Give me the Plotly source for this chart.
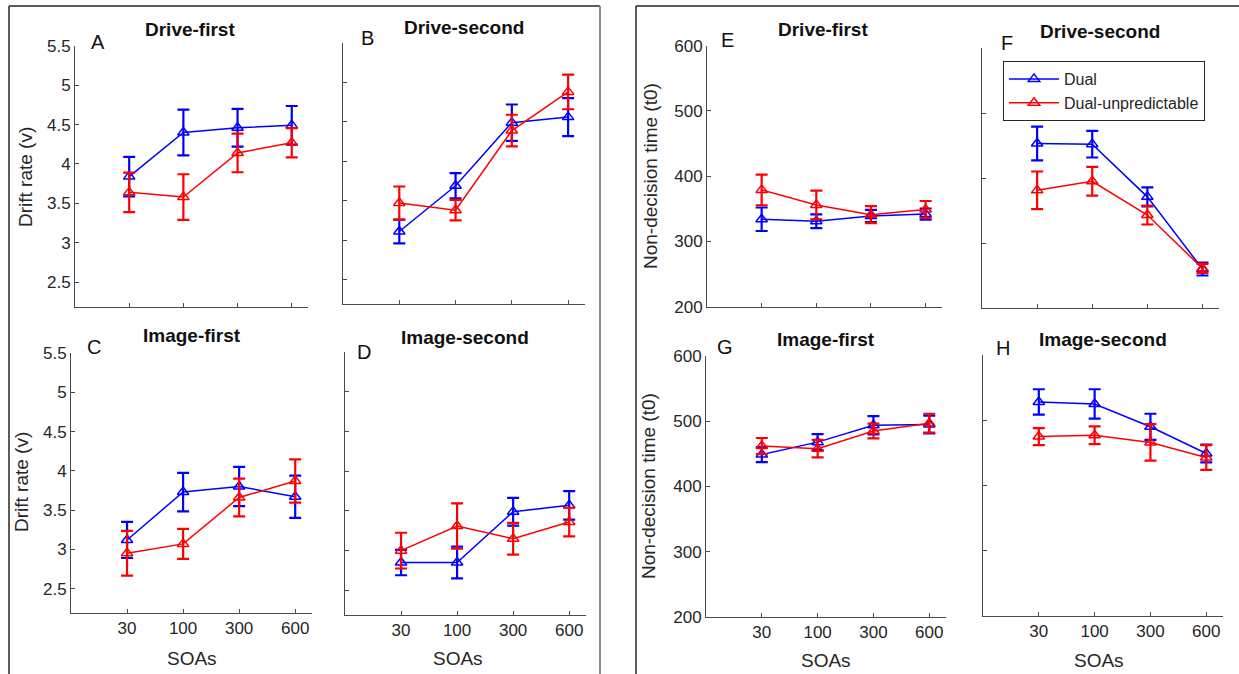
import plotly.graph_objects as go

W, H = 1239, 674

# ---------------- data ----------------
soa_labels = ["30", "100", "300", "600"]
soa_pos = [1, 2, 3, 4]

# Drift rate (v)
A_dual_mean = [3.84, 4.40, 4.46, 4.49]
A_dual_err = [0.25, 0.29, 0.24, 0.245]
A_unp_mean = [3.64, 3.58, 4.14, 4.27]
A_unp_err = [0.25, 0.29, 0.245, 0.185]

B_dual_mean = [3.11, 3.69, 4.49, 4.56]
B_dual_err = [0.15, 0.16, 0.23, 0.24]
B_unp_mean = [3.47, 3.38, 4.39, 4.88]
B_unp_err = [0.21, 0.13, 0.20, 0.22]

C_dual_mean = [3.12, 3.73, 3.80, 3.67]
C_dual_err = [0.23, 0.245, 0.25, 0.27]
C_unp_mean = [2.95, 3.07, 3.66, 3.87]
C_unp_err = [0.285, 0.19, 0.24, 0.275]

D_dual_mean = [2.85, 2.85, 3.49, 3.57]
D_dual_err = [0.16, 0.20, 0.175, 0.18]
D_unp_mean = [3.00, 3.31, 3.15, 3.36]
D_unp_err = [0.225, 0.285, 0.20, 0.18]

# Non-decision time (t0)
E_dual_mean = [334, 331, 339, 342]
E_dual_err = [18, 10.5, 9.5, 8.5]
E_unp_mean = [379, 356, 341, 349]
E_unp_err = [23.5, 22, 13, 13]

F_dual_mean = [453, 452, 371, 260]
F_dual_err = [26, 20.5, 14.5, 10]
F_unp_mean = [381, 395, 343, 261]
F_unp_err = [29, 22, 14.5, 7]

G_dual_mean = [449, 468, 494, 495]
G_dual_err = [11.5, 12.3, 14, 13.5]
G_unp_mean = [462, 458, 485, 497]
G_unp_err = [12.3, 13.5, 11.3, 14.5]

H_dual_mean = [528, 525, 490, 449]
H_dual_err = [19.5, 22.5, 20, 13.5]
H_unp_mean = [475, 477, 466, 443]
H_unp_err = [13, 13.7, 28, 19]

drift_ticks = [2.5, 3, 3.5, 4, 4.5, 5, 5.5]
drift_tick_labels = ["2.5", "3", "3.5", "4", "4.5", "5", "5.5"]
t0_ticks = [200, 300, 400, 500, 600]
t0_tick_labels = ["200", "300", "400", "500", "600"]

series_names = ["Dual", "Dual-unpredictable"]
series_colors = ["#0000FF", "#FF0000"]

# ---------------- layout geometry (pixels) ----------------
panels = [
    ("A", "Drive-first", 75, 308, 45.7, 306.7, [2.19, 5.5], "drift", False, True,
     A_dual_mean, A_dual_err, A_unp_mean, A_unp_err),
    ("B", "Drive-second", 343, 585, 43, 304, [2.19, 5.5], "drift", False, False,
     B_dual_mean, B_dual_err, B_unp_mean, B_unp_err),
    ("C", "Image-first", 71, 312, 353, 613, [2.19, 5.5], "drift", True, True,
     C_dual_mean, C_dual_err, C_unp_mean, C_unp_err),
    ("D", "Image-second", 345, 586, 352, 615, [2.19, 5.5], "drift", True, False,
     D_dual_mean, D_dual_err, D_unp_mean, D_unp_err),
    ("E", "Drive-first", 707, 942, 45.7, 306.7, [200, 600], "t0", False, True,
     E_dual_mean, E_dual_err, E_unp_mean, E_unp_err),
    ("F", "Drive-second", 982, 1219, 48, 308, [200, 600], "t0", False, False,
     F_dual_mean, F_dual_err, F_unp_mean, F_unp_err),
    ("G", "Image-first", 706, 946, 356, 617, [200, 600], "t0", True, True,
     G_dual_mean, G_dual_err, G_unp_mean, G_unp_err),
    ("H", "Image-second", 983, 1223, 355, 616, [200, 600], "t0", True, False,
     H_dual_mean, H_dual_err, H_unp_mean, H_unp_err),
]

title_pos = {
    "A": (190, 30), "B": (464, 28), "C": (192, 335), "D": (465, 337),
    "E": (823, 30), "F": (1100, 32), "G": (826, 339), "H": (1103, 339),
}
letter_pos = {
    "A": (98, 42), "B": (367, 38), "C": (94, 347), "D": (364, 352),
    "E": (727, 40), "F": (1007, 43), "G": (725, 347), "H": (1003, 348),
}


def px(x):
    return x / W


def py(y):
    return 1 - y / H


FONT = "Liberation Sans, Arial, sans-serif"
TXT = "#262626"
AX = "#4a4a4a"

fig = go.Figure()
layout = dict(
    template="none",
    width=W, height=H, autosize=False,
    margin=dict(l=0, r=0, t=0, b=0, pad=0, autoexpand=False),
    paper_bgcolor="white", plot_bgcolor="white",
    font=dict(family=FONT, color=TXT, size=17),
    showlegend=True,
    legend=dict(
        x=px(1003), y=py(61), xanchor="left", yanchor="top",
        bgcolor="white", bordercolor="#262626", borderwidth=1,
        font=dict(size=16, color=TXT, family=FONT),
        itemwidth=50, tracegroupgap=0,
    ),
)
annotations = []

for i, p in enumerate(panels):
    (key, title, x0, x1, yt, yb, yr, kind, show_x, show_y,
     dm, de, um, ue) = p
    n = i + 1
    xa = "x" if n == 1 else f"x{n}"
    ya = "y" if n == 1 else f"y{n}"
    ticks = drift_ticks if kind == "drift" else t0_ticks
    tlabels = drift_tick_labels if kind == "drift" else t0_tick_labels
    layout[f"xaxis{'' if n == 1 else n}"] = dict(
        domain=[px(x0), px(x1)], anchor=ya, range=[0, 4.3],
        tickmode="array", tickvals=soa_pos,
        ticktext=soa_labels if show_x else ["", "", "", ""],
        ticks="inside", ticklen=4, tickcolor=AX, tickwidth=1,
        showline=True, linecolor=AX, linewidth=1, automargin=False,
        showgrid=False, zeroline=False, fixedrange=True,
        tickfont=dict(size=17, color=TXT),
    )
    layout[f"yaxis{'' if n == 1 else n}"] = dict(
        domain=[py(yb), py(yt)], anchor=xa, range=yr,
        tickmode="array", tickvals=ticks,
        ticktext=tlabels if show_y else [""] * len(ticks),
        ticks="inside", ticklen=4, tickcolor=AX, tickwidth=1,
        showline=True, linecolor=AX, linewidth=1, automargin=False,
        showgrid=False, zeroline=False, fixedrange=True,
        tickfont=dict(size=17, color=TXT),
    )
    for s, (mean, err) in enumerate([(dm, de), (um, ue)]):
        fig.add_trace(go.Scatter(
            x=soa_pos, y=mean, xaxis=xa, yaxis=ya,
            mode="lines+markers",
            name=series_names[s],
            showlegend=(key == "F"),
            line=dict(color=series_colors[s], width=1.5),
            marker=dict(symbol="triangle-up-open", size=10,
                        color=series_colors[s],
                        line=dict(color=series_colors[s], width=1.5)),
            error_y=dict(type="data", array=err, visible=True,
                         color=series_colors[s], thickness=2.2, width=6),
        ))
    tx, ty = title_pos[key]
    annotations.append(dict(
        x=px(tx), y=py(ty), xref="paper", yref="paper", text=f"<b>{title}</b>",
        showarrow=False, xanchor="center", yanchor="middle",
        font=dict(size=19, color="#111111", family=FONT)))
    lx, ly = letter_pos[key]
    annotations.append(dict(
        x=px(lx), y=py(ly), xref="paper", yref="paper", text=key,
        showarrow=False, xanchor="center", yanchor="middle",
        font=dict(size=20, color="#111111", family=FONT)))

for (x, y, t) in [(25, 177, "Drift rate (v)"), (21, 482, "Drift rate (v)"),
                  (650, 176, "Non-decision time (t0)"), (648, 486, "Non-decision time (t0)")]:
    annotations.append(dict(
        x=px(x), y=py(y), xref="paper", yref="paper", text=t, textangle=-90,
        showarrow=False, xanchor="center", yanchor="middle",
        font=dict(size=19, color=TXT, family=FONT)))
for (x, y) in [(192, 658), (458, 658), (826, 660), (1099, 660)]:
    annotations.append(dict(
        x=px(x), y=py(y), xref="paper", yref="paper", text="SOAs",
        showarrow=False, xanchor="center", yanchor="middle",
        font=dict(size=19, color=TXT, family=FONT)))

shapes = [
    dict(type="line", xref="paper", yref="paper", x0=px(9), x1=px(600), y0=py(6), y1=py(6),
         line=dict(color="#262626", width=1.5)),
    dict(type="line", xref="paper", yref="paper", x0=px(9), x1=px(9), y0=py(6), y1=py(680),
         line=dict(color="#262626", width=1.5)),
    dict(type="line", xref="paper", yref="paper", x0=px(600), x1=px(600), y0=py(6), y1=py(680),
         line=dict(color="#8a8a8a", width=2)),
    dict(type="line", xref="paper", yref="paper", x0=px(636), x1=px(1239), y0=py(6), y1=py(6),
         line=dict(color="#262626", width=1.5)),
    dict(type="line", xref="paper", yref="paper", x0=px(636), x1=px(636), y0=py(6), y1=py(680),
         line=dict(color="#262626", width=1.5)),
]

layout["annotations"] = annotations
layout["shapes"] = shapes
fig.update_layout(**layout)
fig.write_html("out.html", config={"displayModeBar": False},
               post_script="document.body.style.margin='0px';")
